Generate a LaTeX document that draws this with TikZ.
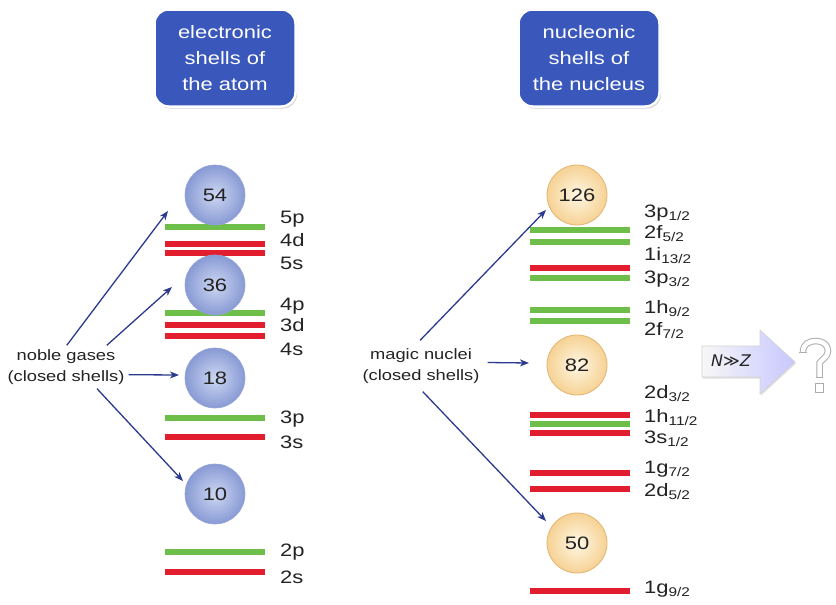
\documentclass[tikz,border=0pt]{standalone}
\usepackage{fontspec}
\setmainfont{Liberation Sans}
\newfontfamily\widefont{Liberation Sans}[FakeStretch=1.22]
\newfontfamily\symbfont{DejaVu Sans}
\usetikzlibrary{arrows.meta,shadows}

\definecolor{titleblue}{RGB}{58,88,188}
\definecolor{lvlgreen}{RGB}{110,190,74}
\definecolor{lvlred}{RGB}{226,30,46}
\definecolor{arrowblue}{RGB}{44,58,142}
\definecolor{labelgray}{RGB}{35,35,35}
\definecolor{eballin}{RGB}{205,215,242}
\definecolor{eballout}{RGB}{136,154,212}
\definecolor{eballrim}{RGB}{150,165,215}
\definecolor{nballin}{RGB}{255,247,228}
\definecolor{nballout}{RGB}{246,210,148}
\definecolor{nballrim}{RGB}{228,180,112}

\tikzset{
  titlebox/.style={draw=white, line width=2.5pt, fill=titleblue, rounded corners=14pt,
    minimum width=141pt, minimum height=97pt, align=center, text=white,
    font=\widefont\fontsize{18}{26}\selectfont,
    drop shadow={shadow xshift=1.5pt, shadow yshift=-2pt, opacity=0.35}},
  eball/.style={circle, minimum size=60pt, inner sep=0pt, inner color=eballin,
    outer color=eballout, draw=eballrim, line width=0.6pt,
    font=\widefont\fontsize{18}{20}\selectfont, text=labelgray},
  nball/.style={circle, minimum size=60pt, inner sep=0pt, inner color=nballin,
    outer color=nballout, draw=nballrim, line width=0.8pt,
    font=\widefont\fontsize{18}{20}\selectfont, text=labelgray},
  greenlvl/.style={draw=lvlgreen, line width=5.5pt},
  redlvl/.style={draw=lvlred, line width=5.5pt},
  lvllabel/.style={anchor=base west, inner sep=0pt, text=labelgray,
    font=\widefont\fontsize{18}{20}\selectfont},
  note/.style={align=center, text=labelgray, inner sep=4pt,
    font=\widefont\fontsize{15}{21}\selectfont},
  conn/.style={draw=arrowblue, line width=1.3pt,
    -{Stealth[length=9pt,width=7pt,inset=2.5pt]}},
  qmark/.style={draw=gray!65, line width=1pt, double=white, double distance=4.5pt}
}

\begin{document}
\begin{tikzpicture}[x=1pt,y=-1pt]
\useasboundingbox (0,0) rectangle (836,605);
\fill[white] (0,0) rectangle (836,605);

% headings
\node[titlebox] (tatom) at (225,58) {electronic\\shells of\\the atom};
\node[titlebox] (tnuc) at (589,58) {nucleonic\\shells of\\the nucleus};

% electron levels
\draw[greenlvl] (165,227) -- (265,227);
\draw[redlvl]   (165,244) -- (265,244);
\draw[redlvl]   (165,253) -- (265,253);
\draw[greenlvl] (165,313) -- (265,313);
\draw[redlvl]   (165,325) -- (265,325);
\draw[redlvl]   (165,336) -- (265,336);
\draw[greenlvl] (165,418) -- (265,418);
\draw[redlvl]   (165,437) -- (265,437);
\draw[greenlvl] (165,552) -- (265,552);
\draw[redlvl]   (165,572) -- (265,572);

% nucleon levels
\draw[greenlvl] (530,230) -- (630,230);
\draw[greenlvl] (530,242) -- (630,242);
\draw[redlvl]   (530,268) -- (630,268);
\draw[greenlvl] (530,278) -- (630,278);
\draw[greenlvl] (530,310) -- (630,310);
\draw[greenlvl] (530,321) -- (630,321);
\draw[redlvl]   (530,415) -- (630,415);
\draw[greenlvl] (530,424) -- (630,424);
\draw[redlvl]   (530,433) -- (630,433);
\draw[redlvl]   (530,473) -- (630,473);
\draw[redlvl]   (530,489) -- (630,489);
\draw[redlvl]   (530,591) -- (630,591);

% closed-shell numbers
\node[eball] (e54) at (215,195) {54};
\node[eball] (e36) at (215,285) {36};
\node[eball] (e18) at (215,378) {18};
\node[eball] (e10) at (215,494) {10};
\node[nball] (n126) at (577,195) {126};
\node[nball] (n82)  at (577,365) {82};
\node[nball] (n50)  at (577,543) {50};

% orbital labels, atom
\node[lvllabel] (l5p) at (280,223) {5p};
\node[lvllabel] (l4d) at (280,246) {4d};
\node[lvllabel] (l5s) at (280,269) {5s};
\node[lvllabel] (l4p) at (280,310) {4p};
\node[lvllabel] (l3d) at (280,331) {3d};
\node[lvllabel] (l4s) at (280,355) {4s};
\node[lvllabel] (l3p) at (280,423) {3p};
\node[lvllabel] (l3s) at (280,448) {3s};
\node[lvllabel] (l2p) at (280,556) {2p};
\node[lvllabel] (l2s) at (280,583) {2s};

% orbital labels, nucleus
\node[lvllabel] (m1) at (644,217) {3p\textsubscript{1/2}};
\node[lvllabel] (m2) at (644,238) {2f\textsubscript{5/2}};
\node[lvllabel] (m3) at (644,260) {1i\textsubscript{13/2}};
\node[lvllabel] (m4) at (644,283) {3p\textsubscript{3/2}};
\node[lvllabel] (m5) at (644,313) {1h\textsubscript{9/2}};
\node[lvllabel] (m6) at (644,335) {2f\textsubscript{7/2}};
\node[lvllabel] (m7) at (644,398) {2d\textsubscript{3/2}};
\node[lvllabel] (m8) at (644,422) {1h\textsubscript{11/2}};
\node[lvllabel] (m9) at (644,443) {3s\textsubscript{1/2}};
\node[lvllabel] (m10) at (644,473) {1g\textsubscript{7/2}};
\node[lvllabel] (m11) at (644,496) {2d\textsubscript{5/2}};
\node[lvllabel] (m12) at (644,593) {1g\textsubscript{9/2}};

% annotations
\node[note] (noble) at (66,367) {noble gases\\(closed shells)};
\node[note, inner sep=8pt] (magic) at (421,366) {magic nuclei\\(closed shells)};

\coordinate (t54) at (168,211);
\coordinate (t36) at (172,287);
\coordinate (t18) at (179,375);
\coordinate (t10) at (183,481);
\coordinate (t126) at (546,210);
\coordinate (t82) at (529,363);
\coordinate (t50) at (546,521);

\draw[conn] (noble.88) -- (t54);
\draw[conn] (noble.28) -- (t36);
\draw[conn] (noble.-7) -- (t18);
\draw[conn] (noble.-35) -- (t10);
\draw[conn] (magic.92) -- (t126);
\draw[conn] (magic.3) -- (t82);
\draw[conn] (magic.-86) -- (t50);

% neutron-rich direction
\path[draw=gray!35, line width=0.6pt, left color=gray!6, right color=blue!22!white,
      drop shadow={shadow xshift=1pt, shadow yshift=-1.5pt, opacity=0.25}]
  (702,346) -- (760,346) -- (760,330) -- (795,362) -- (760,394) -- (760,377)
  -- (702,377) -- cycle;
\node[text=labelgray, font=\symbfont\itshape\fontsize{16}{18}\selectfont] (nz) at (731,361) {N≫Z};

% question mark
\draw[qmark] (803,352) .. controls (803,344) and (809,341) .. (816,341)
  .. controls (823,341) and (828,345) .. (828,351)
  .. controls (828,357) and (822,359) .. (819.5,363) -- (819.5,377);
\draw[gray!65, line width=1pt] (799.2,352) -- (806.8,352);
\draw[gray!65, line width=1pt] (815.7,377) -- (823.3,377);
\draw[gray!65, line width=1pt, fill=white] (815.5,383) rectangle (823.5,392);
\end{tikzpicture}
\end{document}
